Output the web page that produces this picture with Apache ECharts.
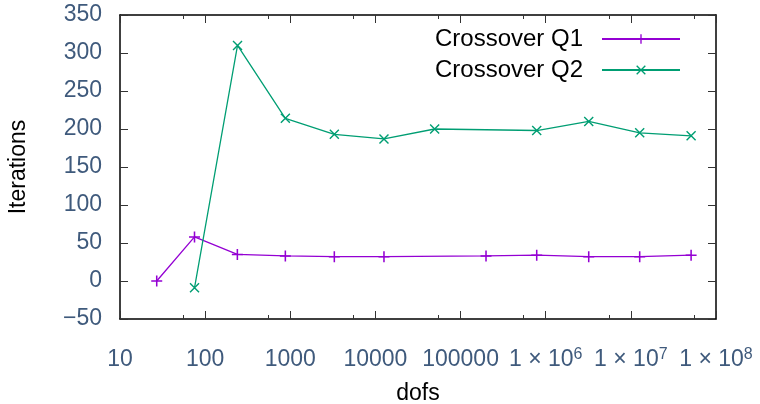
<!DOCTYPE html>
<html lang="en">
<head>
    <meta charset="UTF-8">
    <title>Crossover iterations</title>
    <script src="https://cdn.jsdelivr.net/npm/echarts/dist/echarts.min.js"></script>
    <style>
        body { margin: 0; }
        #chart { width: 760px; height: 404px; }
    </style>
</head>
<body>
    <div id="chart"></div>
    <script>
        // values (dofs, iterations)
        const q1Dofs = [27, 75, 239, 875, 3290, 12600, 199000, 784000, 3.2e6, 1.27e7, 5.1e7];
        const q1Iter = [0, 58, 35, 33, 32, 32, 33, 34, 32, 32, 34];
        const q2Dofs = [75, 240, 875, 3290, 12600, 49600, 784000, 3.2e6, 1.27e7, 5.1e7];
        const q2Iter = [-9, 310, 214, 193, 187, 200, 198, 210, 195, 191];
        const seriesNames = ['Crossover Q1', 'Crossover Q2'];

        const labelColor = '#3f5a7c';
        const font = 'Liberation Sans';
        const plusPath = 'path://M4.3,0h1.4v10h-1.4zM0,4.3h10v1.4h-10z';
        const crossPath = 'path://M0,1L1,0L10,9L9,10ZM9,0L10,1L1,10L0,9Z';

        function xLabel(v) {
            const p = Math.round(Math.log10(v));
            if (p <= 5) return String(Math.round(v));
            return '1 × 10{sup|' + p + '}';
        }

        const chart = echarts.init(document.getElementById('chart'));

        const frameX = {
            type: 'log',
            logBase: 10,
            min: 10,
            max: 1e8,
            splitNumber: 7,
            axisLine: { show: true, onZero: false, lineStyle: { color: '#000', width: 1.5 } },
            axisTick: { show: true, inside: true, length: 8, lineStyle: { color: '#333' } },
            minorTick: { show: true, splitNumber: 2, length: 4, lineStyle: { color: '#333' } },
            splitLine: { show: false }
        };
        const frameY = {
            type: 'value',
            min: -50,
            max: 350,
            interval: 50,
            axisLine: { show: true, onZero: false, lineStyle: { color: '#000', width: 1.5 } },
            axisTick: { show: true, inside: true, length: 8, lineStyle: { color: '#333' } },
            splitLine: { show: false }
        };

        const option = {
            animation: false,
            grid: { left: 120, right: 44, top: 15, bottom: 85, outerBoundsMode: 'none' },
            legend: {
                data: seriesNames,
                orient: 'vertical',
                right: 74,
                top: 22,
                align: 'right',
                itemWidth: 78,
                itemHeight: 12,
                itemGap: 7,
                textStyle: { fontFamily: font, fontSize: 24, color: '#000', padding: [0, 14, 0, 0] }
            },
            xAxis: [
                Object.assign({}, frameX, {
                    position: 'bottom',
                    name: 'dofs',
                    nameLocation: 'middle',
                    nameGap: 63,
                    nameTextStyle: { fontFamily: font, fontSize: 23, color: '#000' },
                    axisLabel: {
                        margin: 29,
                        interval: 0,
                        hideOverlap: false,
                        fontFamily: font,
                        fontSize: 23,
                        color: labelColor,
                        formatter: xLabel,
                        rich: {
                            sup: {
                                fontFamily: font, fontSize: 16, lineHeight: 16,
                                color: labelColor, padding: [0, 0, 10, 0]
                            }
                        }
                    }
                }),
                Object.assign({}, frameX, {
                    position: 'top',
                    axisLabel: { show: false }
                })
            ],
            yAxis: [
                Object.assign({}, frameY, {
                    position: 'left',
                    name: 'Iterations',
                    nameLocation: 'middle',
                    nameGap: 90,
                    nameTextStyle: { fontFamily: font, fontSize: 23, color: '#000' },
                    axisLabel: {
                        margin: 18,
                        fontFamily: font,
                        fontSize: 23,
                        color: labelColor,
                        formatter: v => (v < 0 ? '\u2212' + (-v) : String(v))
                    }
                }),
                Object.assign({}, frameY, {
                    position: 'right',
                    axisLabel: { show: false }
                })
            ],
            series: [
                {
                    name: seriesNames[0],
                    type: 'line',
                    data: q1Dofs.map((d, i) => [d, q1Iter[i]]),
                    symbol: plusPath,
                    symbolSize: 11,
                    color: '#9400d3',
                    lineStyle: { width: 1.3 },
                    itemStyle: { color: '#9400d3' }
                },
                {
                    name: seriesNames[1],
                    type: 'line',
                    data: q2Dofs.map((d, i) => [d, q2Iter[i]]),
                    symbol: crossPath,
                    symbolSize: 10,
                    color: '#009e73',
                    lineStyle: { width: 1.3 },
                    itemStyle: { color: '#009e73' }
                }
            ]
        };

        chart.setOption(option);
    </script>
</body>
</html>
